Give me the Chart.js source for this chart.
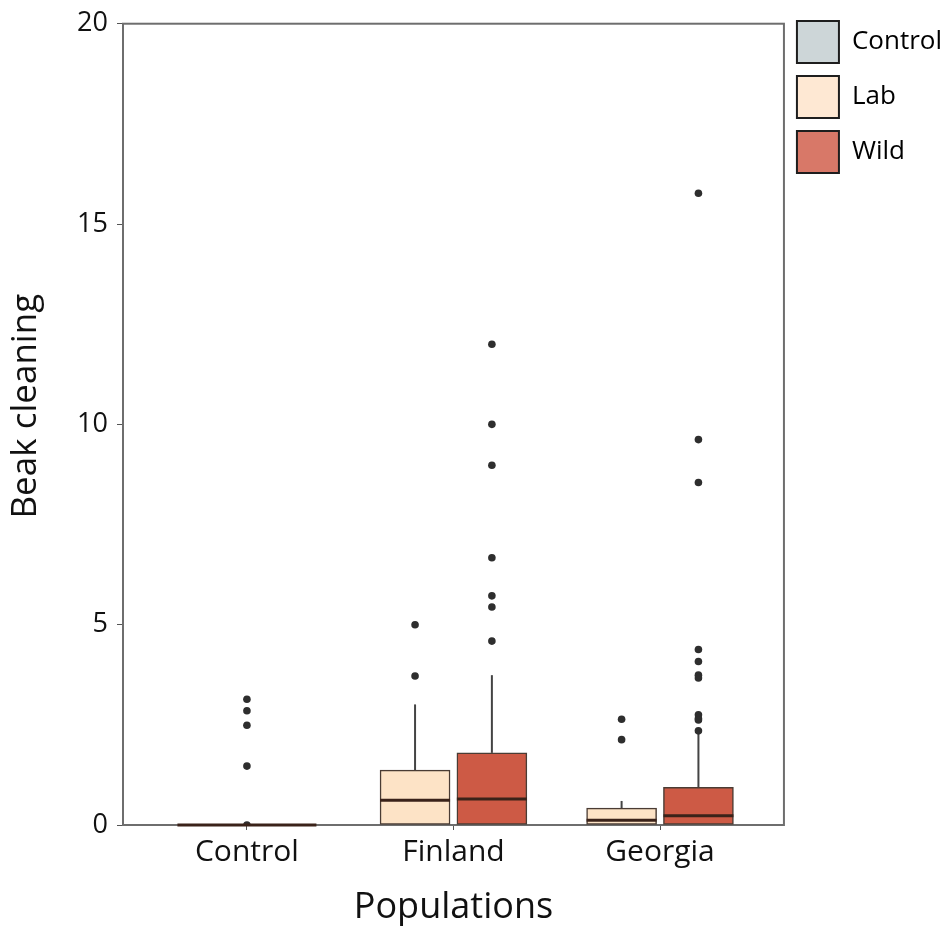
<!DOCTYPE html>
<html lang="en">
<head>
    <meta charset="UTF-8">
    <style>
        html, body { margin: 0; padding: 0; background: #fff; }
    </style>
</head>

<body>
<script src="https://cdn.jsdelivr.net/npm/chart.js@4/dist/chart.umd.min.js"></script>
<canvas id="box-chart" width="945" height="926"></canvas>
<script>

    // populations on the x axis
    const categories = ['Control', 'Finland', 'Georgia'];
    const seriesNames = ['Control', 'Lab', 'Wild'];

    // box stats per population: [low whisker, q1, median, q3, high whisker]
    const controlBox = [[0, 0, 0, 0, 0], null, null];
    const labBox = [null, [0, 0, 0.62, 1.37, 3.01], [0, 0, 0.12, 0.42, 0.6]];
    const wildBox = [null, [0, 0, 0.65, 1.8, 3.74], [0, 0, 0.23, 0.94, 2.3]];

    // outliers per population
    const controlOutliers = [[3.14, 2.85, 2.49, 1.47, 0], [], []];
    const labOutliers = [[], [5.0, 3.72], [2.64, 2.13]];
    const wildOutliers = [[], [12.0, 10.0, 8.98, 6.67, 5.72, 5.44, 4.59],
        [15.77, 9.62, 8.55, 4.38, 4.08, 3.74, 3.67, 2.75, 2.66, 2.62, 2.35]];

    const yTicks = [0, 5, 10, 15, 20];

    // styling
    const boxFill = ['#cdd6d8', '#fde3c6', '#cd5a45'];
    const legendFill = ['#cdd6d8', '#fee8d3', '#d87868'];
    const boxWidth = [139, 70, 70];
    const boxShift = [0, -0.186, 0.186]; // offset from category centre, in x units
    const fontFamily = "'Open Sans', 'DejaVu Sans', sans-serif";

    const allBoxes = [controlBox, labBox, wildBox];
    const allOutliers = [controlOutliers, labOutliers, wildOutliers];

    const datasets = [];
    allBoxes.forEach((boxes, s) => {
        const pts = [];
        boxes.forEach((b, c) => {
            if (b) pts.push({x: c + boxShift[s], y: [b[1], b[3]]});
        });
        datasets.push({
            type: 'bar',
            label: seriesNames[s],
            data: pts,
            backgroundColor: boxFill[s],
            borderColor: '#4a3c34',
            borderWidth: 1.5,
            borderSkipped: false,
            barThickness: boxWidth[s],
            grouped: false,
            order: 2
        });
    });
    allOutliers.forEach((groups, s) => {
        const pts = [];
        groups.forEach((vals, c) => {
            vals.forEach(v => pts.push({x: c + boxShift[s], y: v}));
        });
        datasets.push({
            type: 'scatter',
            label: seriesNames[s] + ' outliers',
            data: pts,
            backgroundColor: '#2e2e2e',
            borderWidth: 0,
            pointRadius: 3.8,
            pointHoverRadius: 3.8,
            order: 1
        });
    });

    // frame round the plot, whiskers and medians
    const boxExtras = {
        id: 'boxExtras',
        beforeDatasetsDraw(chart) {
            const ctx = chart.ctx, xs = chart.scales.x, ys = chart.scales.y;
            const a = chart.chartArea;
            ctx.save();
            ctx.strokeStyle = '#6e6e6e';
            ctx.lineWidth = 2;
            ctx.strokeRect(a.left, a.top, a.right - a.left, a.bottom - a.top);
            ctx.strokeStyle = '#444';
            allBoxes.forEach((boxes, s) => {
                boxes.forEach((b, c) => {
                    if (!b) return;
                    const px = xs.getPixelForValue(c + boxShift[s]);
                    ctx.beginPath();
                    ctx.moveTo(px, ys.getPixelForValue(b[3]));
                    ctx.lineTo(px, ys.getPixelForValue(b[4]));
                    ctx.moveTo(px, ys.getPixelForValue(b[1]));
                    ctx.lineTo(px, ys.getPixelForValue(b[0]));
                    ctx.stroke();
                });
            });
            ctx.restore();
        },
        afterDatasetsDraw(chart) {
            const ctx = chart.ctx, xs = chart.scales.x, ys = chart.scales.y;
            ctx.save();
            ctx.strokeStyle = '#3a2219';
            ctx.lineWidth = 3;
            allBoxes.forEach((boxes, s) => {
                boxes.forEach((b, c) => {
                    if (!b) return;
                    const px = xs.getPixelForValue(c + boxShift[s]);
                    const py = ys.getPixelForValue(b[2]);
                    ctx.beginPath();
                    ctx.moveTo(px - boxWidth[s] / 2, py);
                    ctx.lineTo(px + boxWidth[s] / 2, py);
                    ctx.stroke();
                });
            });
            ctx.restore();
        }
    };

    new Chart(document.getElementById('box-chart'), {
        type: 'bar',
        data: { datasets: datasets },
        plugins: [boxExtras],
        options: {
            responsive: false,
            animation: false,
            layout: { padding: { top: 8, right: -7, left: 0, bottom: 0 } },
            plugins: {
                tooltip: { enabled: false },
                legend: {
                    position: 'right',
                    align: 'start',
                    fullSize: true,
                    labels: {
                        boxWidth: 42,
                        boxHeight: 42,
                        padding: 13,
                        color: '#111',
                        font: { family: fontFamily, size: 26 },
                        generateLabels(chart) {
                            return seriesNames.map((name, i) => ({
                                text: name,
                                fillStyle: legendFill[i],
                                strokeStyle: '#1e1e1e',
                                lineWidth: 2,
                                datasetIndex: i
                            }));
                        }
                    }
                }
            },
            scales: {
                x: {
                    type: 'linear',
                    min: -0.6,
                    max: 2.6,
                    offset: false,
                    afterFit(scale) { scale.height = 101; },
                    afterBuildTicks(scale) {
                        scale.ticks = categories.map((c, i) => ({value: i}));
                    },
                    grid: { display: true, offset: false, drawOnChartArea: false, tickLength: 5, color: '#555' },
                    border: { display: true, color: '#6e6e6e', width: 2 },
                    ticks: {
                        color: '#111',
                        padding: 4,
                        maxRotation: 0,
                        font: { family: fontFamily, size: 30 },
                        callback: v => categories[v]
                    },
                    title: {
                        display: true,
                        text: 'Populations',
                        color: '#111',
                        font: { family: fontFamily, size: 36, lineHeight: 1.0 },
                        padding: { top: 0, bottom: 0 }
                    }
                },
                y: {
                    min: 0,
                    max: 20,
                    afterFit(scale) { scale.width = 123; },
                    afterBuildTicks(scale) {
                        scale.ticks = yTicks.map(v => ({value: v}));
                    },
                    grid: { display: true, drawOnChartArea: false, tickLength: 6, color: '#555' },
                    border: { display: true, color: '#6e6e6e', width: 2 },
                    ticks: {
                        color: '#111',
                        padding: 9,
                        font: { family: fontFamily, size: 27, lineHeight: 1.09 }
                    },
                    title: {
                        display: true,
                        text: '    Beak cleaning',
                        color: '#111',
                        font: { family: fontFamily, size: 35 },
                        padding: { top: 5, bottom: 0 }
                    }
                }
            }
        }
    });
</script>

</body>

</html>
